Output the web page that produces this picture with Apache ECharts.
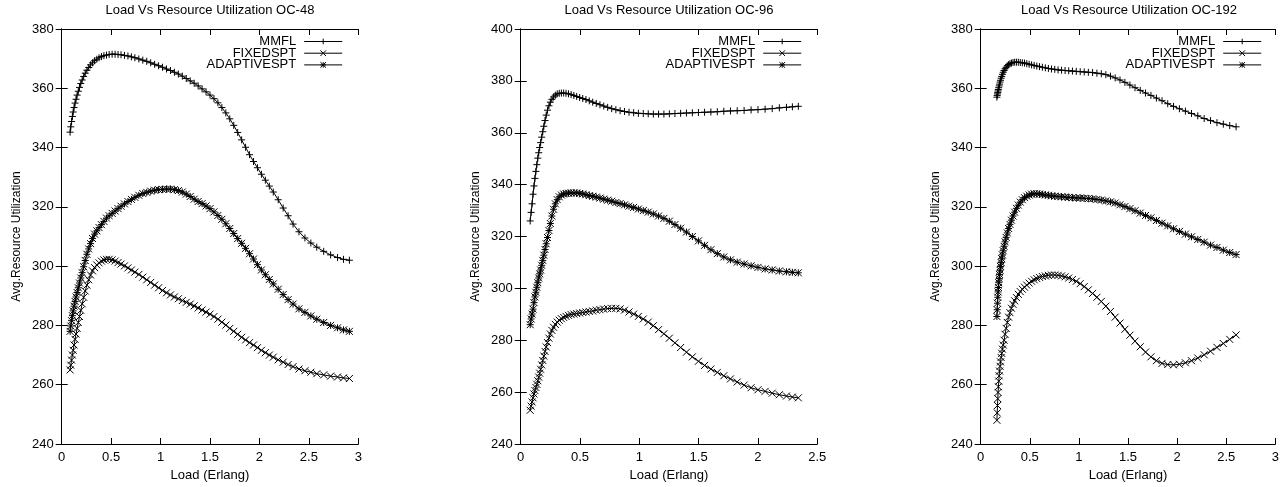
<!DOCTYPE html>
<html>
<head>
<meta charset="utf-8">
<script src="https://cdn.jsdelivr.net/npm/echarts@6/dist/echarts.min.js"></script>
<style>
html,body{margin:0;padding:0;background:#fff;}
#chart{width:1282px;height:487px;}
</style>
</head>
<body>
<div id="chart"></div>
<script>
// ---------- DATA ----------
var titles = ['Load Vs Resource Utilization OC-48', 'Load Vs Resource Utilization OC-96', 'Load Vs Resource Utilization OC-192'];
var seriesNames = ['MMFL', 'FIXEDSPT', 'ADAPTIVESPT'];

// OC-48
var loadOC48 = [0.085,0.092,0.10,0.108,0.116,0.125,0.135,0.145,0.156,0.168,
0.18,0.193,0.207,0.222,0.238,0.255,0.273,0.292,0.312,0.333,
0.355,0.378,0.402,0.427,0.453,0.48,0.51,0.54,0.57,0.6,
0.635,0.67,0.705,0.74,0.78,0.82,0.86,0.9,0.94,0.98,
1.02,1.06,1.1,1.14,1.18,1.22,1.26,1.3,1.34,1.38,
1.42,1.46,1.5,1.54,1.58,1.62,1.66,1.7,1.74,1.78,
1.82,1.86,1.9,1.94,1.98,2.02,2.06,2.1,2.14,2.19,
2.24,2.29,2.34,2.4,2.46,2.52,2.58,2.65,2.72,2.79,2.85,2.91];
var mmflOC48 = [345.2,347,348.8,350.5,352,353.5,355,356.3,357.7,359,
360.3,361.6,362.8,364,365.1,366.1,367,367.9,368.6,369.3,
369.8,370.3,370.7,371,371.2,371.4,371.5,371.5,371.4,371.3,
371.1,370.9,370.6,370.3,369.9,369.5,369.1,368.6,368.1,367.6,
367.1,366.5,366,365.4,364.8,364.1,363.3,362.5,361.7,360.8,
359.8,358.8,357.7,356.5,355.1,353.5,351.7,349.7,347.5,345.1,
342.6,340.1,337.6,335.3,333.2,331,329,327,325,322.4,
319.6,317,314.2,311.6,309.5,307.8,306.4,305,303.8,302.9,302.3,302];
var fixedOC48 = [265,266.6,268.3,270,271.6,273.4,275.3,277.1,279,281,
283,285.1,287.3,289.5,291.6,293.6,295.4,297,298.4,299.5,
300.4,301.1,301.7,302.1,302.3,302.3,302.1,301.7,301.2,300.7,
300.1,299.4,298.7,298,297.2,296.3,295.4,294.5,293.6,292.7,
291.8,291,290.3,289.6,289,288.4,287.8,287.2,286.6,285.9,
285.2,284.5,283.8,283,282.1,281.1,280.1,279,278,277,
276,275.1,274.2,273.4,272.5,271.6,270.8,270,269.3,268.4,
267.6,266.8,266.1,265.3,264.7,264.2,263.7,263.3,262.9,262.6,262.3,262.1];
var adaptiveOC48 = [278,279.8,281.6,283.3,284.9,286.5,288.1,289.6,291.1,292.7,
294.3,296,297.8,299.8,301.9,304,305.8,307.6,309.3,310.8,
311.9,313,314,315.1,316.2,317,317.8,318.6,319.4,320.2,
321,321.8,322.5,323.2,323.9,324.5,324.9,325.3,325.6,325.8,
325.9,326,326,325.8,325.5,325,324.3,323.5,322.6,321.8,
321.1,320.3,319.4,318.3,317.1,315.8,314.3,312.7,311,309.3,
307.7,306,304.2,302.4,300.5,298.7,297.1,295.5,294,292.2,
290.4,288.7,287.2,285.6,284.4,283.2,282.1,281,280,279.2,278.5,278];

// OC-96
var loadOC96 = [0.08,0.088,0.096,0.104,0.112,0.12,0.128,0.136,0.144,0.152,
0.16,0.168,0.177,0.186,0.195,0.205,0.215,0.226,0.238,0.25,
0.263,0.277,0.292,0.308,0.325,0.343,0.362,0.382,0.403,0.425,
0.448,0.472,0.497,0.523,0.55,0.578,0.607,0.637,0.668,0.7,
0.733,0.767,0.802,0.838,0.875,0.913,0.952,0.992,1.033,1.075,
1.118,1.162,1.207,1.253,1.3,1.348,1.397,1.447,1.498,1.55,
1.603,1.657,1.712,1.768,1.825,1.883,1.942,2.0,2.06,2.12,2.18,2.24,2.29,2.34];
var mmflOC96 = [326,329.3,332.6,336.3,339.5,342.4,345.1,347.7,350.2,352.3,
354.3,356.2,358.3,360.4,362.5,364.7,366.8,368.7,370.4,371.8,
372.9,373.8,374.5,375,375.2,375.3,375.3,375.2,375,374.7,
374.4,374,373.6,373.2,372.8,372.3,371.8,371.3,370.8,370.3,
369.8,369.3,368.9,368.5,368.2,367.9,367.7,367.5,367.4,367.3,
367.2,367.2,367.2,367.3,367.4,367.5,367.6,367.7,367.8,367.9,
368,368.1,368.3,368.4,368.5,368.6,368.8,368.9,369.1,369.3,369.6,369.8,370,370.2];
var fixedOC96 = [253,254.6,256.2,257.8,259.3,260.6,261.8,263,264.4,265.8,
267.3,268.8,270.5,272.2,273.9,275.7,277.4,279.1,280.8,282.4,
283.8,285,286.1,287,287.7,288.3,288.8,289.2,289.6,289.9,
290.1,290.3,290.5,290.7,290.9,291.1,291.3,291.6,291.8,292,
292.2,292.3,292.3,292.1,291.6,290.9,290.1,289.2,288.2,287,
285.6,284.1,282.5,280.8,279,277.2,275.4,273.6,271.9,270.3,
268.9,267.6,266.3,265.1,263.9,262.7,261.7,260.9,260.3,259.6,259,258.5,258.1,257.8];
var adaptiveOC96 = [286,288.2,290.1,292,294.5,296.7,298.5,300.4,302.2,304,
305.6,307.1,308.9,310.8,312.8,315,317.2,319.6,322.3,325,
327.9,330.5,332.6,334.2,335.3,336,336.4,336.6,336.7,336.8,
336.8,336.8,336.6,336.4,336.1,335.8,335.5,335.2,334.8,334.4,
334,333.6,333.1,332.7,332.2,331.7,331.2,330.6,330,329.4,
328.7,327.9,327,325.9,324.6,323.2,321.7,320,318.3,316.6,
314.9,313.4,312.1,311,310.1,309.4,308.7,308.1,307.5,307.1,306.7,306.4,306.2,306];

// OC-192
var loadOC192 = [0.165,0.168,0.171,0.174,0.177,0.18,0.184,0.188,0.192,0.197,
0.202,0.208,0.214,0.221,0.229,0.238,0.248,0.259,0.271,0.284,
0.298,0.313,0.329,0.346,0.364,0.383,0.403,0.424,0.446,0.469,
0.493,0.518,0.544,0.571,0.599,0.628,0.658,0.689,0.721,0.754,
0.788,0.823,0.859,0.896,0.934,0.973,1.013,1.054,1.096,1.139,
1.183,1.228,1.274,1.321,1.369,1.418,1.468,1.519,1.571,1.624,
1.678,1.733,1.789,1.846,1.904,1.963,2.023,2.084,2.146,2.21,2.275,2.34,2.405,2.47,2.535,2.6];
var mmflOC192 = [357,357.6,358.1,358.6,359.1,359.6,360.2,360.8,361.4,362.1,
362.7,363.4,364,364.7,365.4,366,366.6,367.1,367.6,368,
368.3,368.5,368.7,368.8,368.8,368.8,368.7,368.6,368.5,368.3,
368.1,367.9,367.7,367.5,367.3,367.1,366.9,366.7,366.5,366.4,
366.2,366.1,366,365.9,365.8,365.7,365.6,365.5,365.4,365.3,
365.1,364.9,364.6,364.1,363.5,362.8,362,361.1,360.2,359.3,
358.4,357.6,356.7,355.8,354.8,353.9,353.1,352.3,351.5,350.7,349.8,349.1,348.4,347.9,347.4,347];
var fixedOC192 = [248,250.5,253,255.3,257.4,259.3,261.2,263,264.6,266.2,
267.7,269.2,270.6,272,273.4,275,277,279,281,282.8,
284.3,285.8,287.1,288.3,289.4,290.5,291.4,292.2,292.9,293.6,
294.3,294.9,295.4,295.8,296.2,296.5,296.7,296.9,297,297,
296.9,296.7,296.4,296,295.5,294.9,294.1,293.1,292,290.8,
289.5,288.1,286.5,284.7,282.8,280.8,278.7,276.7,274.7,272.8,
271,269.4,268.1,267.2,266.8,266.7,266.9,267.4,268.1,269,270.1,271.3,272.6,273.9,275.3,276.8];
var adaptiveOC192 = [283,285.3,287.5,289.5,291.3,292.8,294.4,295.8,297.2,298.6,
299.9,301.2,302.5,303.8,305.2,306.7,308.2,309.7,311.2,312.7,
314.1,315.5,316.9,318.2,319.5,320.6,321.6,322.4,323.1,323.6,
324,324.3,324.4,324.4,324.3,324.2,324,323.9,323.7,323.6,
323.5,323.4,323.3,323.2,323.1,323,323,322.9,322.8,322.7,
322.5,322.3,322,321.7,321.3,320.7,320.1,319.4,318.7,317.9,
317.1,316.3,315.4,314.5,313.6,312.6,311.7,310.8,309.9,309,308.1,307.1,306.3,305.4,304.6,303.9];

var xMax = [3, 2.5, 3];
var yMin = [240, 240, 240];
var yMax = [380, 400, 380];

// ---------- CHART ----------
var FONT = "'Liberation Sans', Arial, Helvetica, sans-serif";
var panels = [
  {load: loadOC48, ys: [mmflOC48, fixedOC48, adaptiveOC48]},
  {load: loadOC96, ys: [mmflOC96, fixedOC96, adaptiveOC96]},
  {load: loadOC192, ys: [mmflOC192, fixedOC192, adaptiveOC192]}
];
var gridLeft = [61.7, 520.7, 980.7];
var gridW = 296.6, gridTop = 29, gridH = 418.7;
var legendRight = [939.3, 480.3, 20.3];

var symbols = [
  'path://M0,5L10,5M5,0L5,10',
  'path://M0,0L10,10M10,0L0,10',
  'path://M0,5L10,5M5,0L5,10M0,0L10,10M10,0L0,10'
];

var grids = [], xAxes = [], yAxes = [], series = [], titleArr = [], legends = [];
var axisLine = {show: true, lineStyle: {color: '#000', width: 1}};
var tick = {show: true, inside: true, length: 6, lineStyle: {color: '#000', width: 1}};
var lbl = {color: '#000', fontSize: 13, fontFamily: FONT};

for (var p = 0; p < 3; p++) {
  grids.push({left: gridLeft[p], top: gridTop, width: gridW, height: gridH, containLabel: false});
  titleArr.push({
    text: titles[p], left: gridLeft[p] + gridW / 2, top: 4, textAlign: 'center', padding: 0,
    textStyle: {fontSize: 13, fontWeight: 'normal', color: '#000', fontFamily: FONT}
  });
  xAxes.push({
    type: 'value', gridIndex: p, min: 0, max: xMax[p], interval: 0.5, position: 'bottom',
    axisLine: axisLine, axisTick: tick, splitLine: {show: false},
    axisLabel: Object.assign({margin: 7}, lbl),
    name: 'Load (Erlang)', nameLocation: 'middle', nameGap: 25,
    nameTextStyle: {color: '#000', fontSize: 13, fontFamily: FONT}
  });
  xAxes.push({
    type: 'value', gridIndex: p, min: 0, max: xMax[p], interval: 0.5, position: 'top',
    axisLine: axisLine, axisTick: tick, splitLine: {show: false}, axisLabel: {show: false}
  });
  yAxes.push({
    type: 'value', gridIndex: p, min: yMin[p], max: yMax[p], interval: 20, position: 'left',
    axisLine: axisLine, axisTick: tick, splitLine: {show: false},
    axisLabel: Object.assign({margin: 8}, lbl),
    name: 'Avg.Resource Utilization', nameLocation: 'middle', nameGap: 39, nameRotate: 90,
    nameTextStyle: {color: '#000', fontSize: 12, fontFamily: FONT}
  });
  yAxes.push({
    type: 'value', gridIndex: p, min: yMin[p], max: yMax[p], interval: 20, position: 'right',
    axisLine: axisLine, axisTick: tick, splitLine: {show: false}, axisLabel: {show: false}
  });
  for (var s = 0; s < 3; s++) {
    var xs = panels[p].load, ys = panels[p].ys[s];
    series.push({
      name: seriesNames[s], type: 'line',
      xAxisIndex: 2 * p, yAxisIndex: 2 * p,
      data: xs.map(function (x, i) { return [x, ys[i]]; }),
      symbol: symbols[s], symbolSize: 7, showAllSymbol: true,
      lineStyle: {color: '#000', width: 1},
      itemStyle: {color: '#000', borderColor: '#000', borderWidth: 1},
      emphasis: {disabled: true}, silent: true
    });
  }
  legends.push({
    orient: 'vertical', right: legendRight[p], top: 35, align: 'right', padding: 0,
    itemWidth: 38, itemHeight: 7, itemGap: -1.3,
    data: seriesNames,
    lineStyle: {color: '#000', width: 1},
    itemStyle: {color: 'none', borderColor: '#000', borderWidth: 1},
    textStyle: {color: '#000', fontSize: 13, fontFamily: FONT, lineHeight: 13, padding: [0, 3, 0, 0]},
    selectedMode: false
  });
}

var chart = echarts.init(document.getElementById('chart'), null, {renderer: 'canvas'});
chart.setOption({
  animation: false,
  backgroundColor: '#fff',
  title: titleArr,
  legend: legends,
  grid: grids,
  xAxis: xAxes,
  yAxis: yAxes,
  series: series
});
</script>
</body>
</html>
